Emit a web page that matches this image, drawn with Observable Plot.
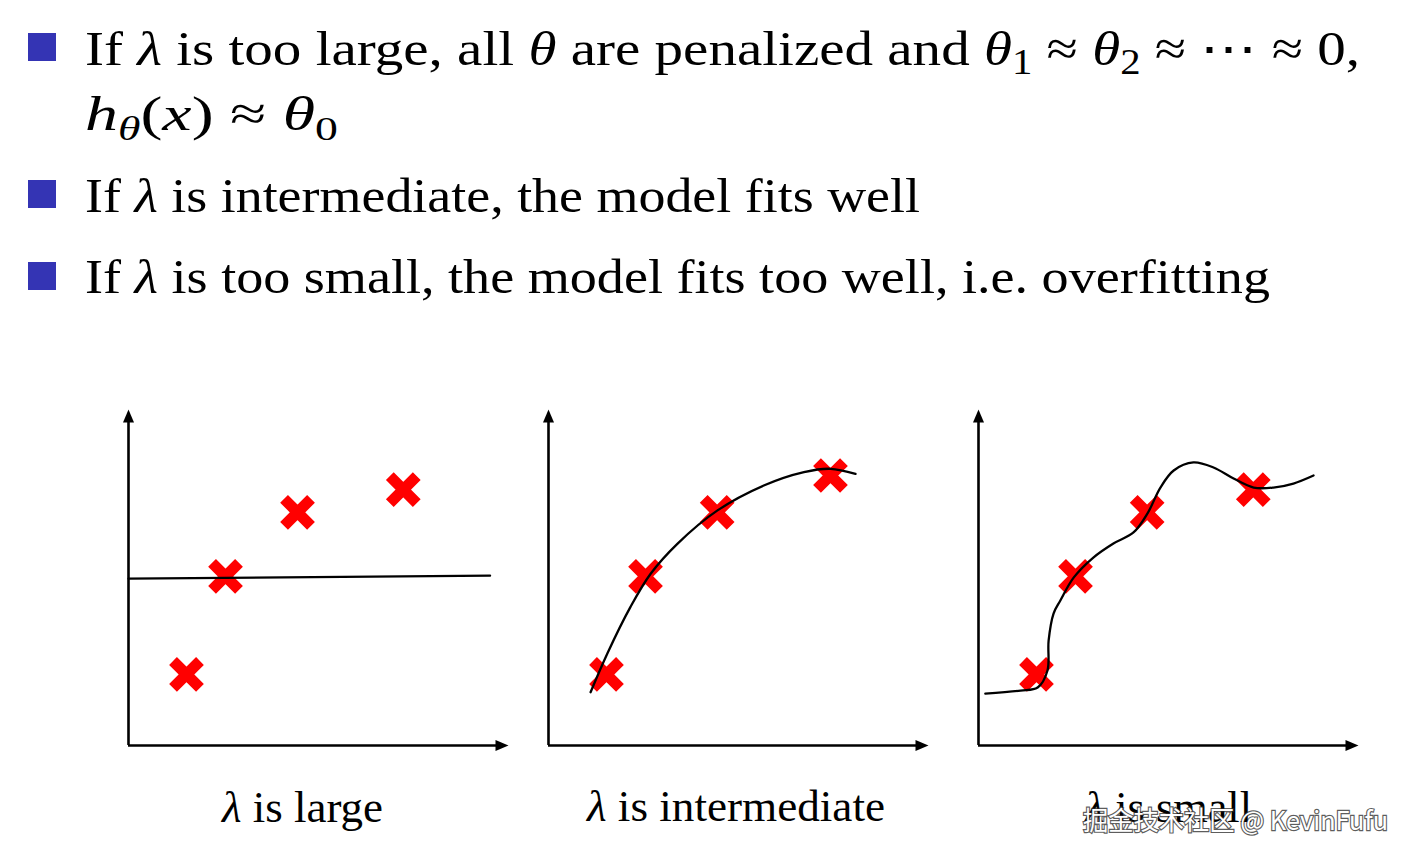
<!DOCTYPE html>
<html>
<head>
<meta charset="utf-8">
<script src="https://cdn.jsdelivr.net/npm/d3@7"></script>
<script src="https://cdn.jsdelivr.net/npm/@observablehq/plot@0.6"></script>
<style>
  html, body { margin: 0; padding: 0; background: #fff; }
  #page { position: relative; width: 1414px; height: 857px; overflow: hidden; background: #fff; }
  .panel { position: absolute; top: 390px; }
  #txt { position: absolute; left: 0; top: 0; z-index: 5; }
</style>
</head>
<body>
<div id="page">
  <div class="panel" id="p0" style="left:108px"></div>
  <div class="panel" id="p1" style="left:528px"></div>
  <div class="panel" id="p2" style="left:958px"></div>
  <svg id="txt" width="1414" height="857" font-family="'Liberation Serif', 'Times New Roman', serif" fill="#000">
    <rect x="28" y="33" width="28" height="28" fill="#3434b4"/>
    <rect x="28" y="180" width="28" height="28" fill="#3434b4"/>
    <rect x="28" y="262" width="28" height="28" fill="#3434b4"/>
    <text x="85" y="65" font-size="49" textLength="1275" lengthAdjust="spacingAndGlyphs">If <tspan font-style="italic">λ</tspan> is too large, all <tspan font-style="italic">θ</tspan> are penalized and <tspan font-style="italic">θ</tspan><tspan font-size="35" dy="9">1</tspan><tspan dy="-9"> ≈ </tspan><tspan font-style="italic">θ</tspan><tspan font-size="35" dy="9">2</tspan><tspan dy="-9"> ≈ ⋯ ≈ 0,</tspan></text>
    <text x="85" y="130" font-size="49" textLength="253" lengthAdjust="spacingAndGlyphs"><tspan font-style="italic">h</tspan><tspan font-style="italic" font-size="34" dy="10">θ</tspan><tspan dy="-10">(</tspan><tspan font-style="italic">x</tspan>) ≈ <tspan font-style="italic">θ</tspan><tspan font-size="34" dy="10">0</tspan></text>
    <text x="85" y="212" font-size="49" textLength="835" lengthAdjust="spacingAndGlyphs">If <tspan font-style="italic">λ</tspan> is intermediate, the model fits well</text>
    <text x="85" y="293" font-size="49" textLength="1185" lengthAdjust="spacingAndGlyphs">If <tspan font-style="italic">λ</tspan> is too small, the model fits too well, i.e. overfitting</text>
    <text id="lab0" x="222" y="822" font-size="45" textLength="161" lengthAdjust="spacingAndGlyphs"></text>
    <text id="lab1" x="587" y="821" font-size="45" textLength="298" lengthAdjust="spacingAndGlyphs"></text>
    <text id="lab2" x="1085" y="822" font-size="45" textLength="167" lengthAdjust="spacingAndGlyphs"></text>
    <text x="1083" y="830" font-family="'Noto Sans CJK SC', 'Noto Sans', sans-serif" font-size="26" fill="#fff" stroke="rgba(40,40,40,0.75)" stroke-width="2.4" paint-order="stroke" textLength="305" lengthAdjust="spacingAndGlyphs">掘金技术社区 @ KevinFufu</text>
  </svg>
</div>
<script>
// ---- data ----
const panelLabels = ["large", "intermediate", "small"];

// red X training points (x, y in axis units 0..10)
const pointsX = [
  [1.53, 2.56, 4.46, 7.25],
  [1.53, 2.56, 4.45, 7.44],
  [1.53, 2.56, 4.45, 7.25]
];
const pointsY = [
  [2.12, 5.05, 6.96, 7.64],
  [2.12, 5.05, 6.96, 8.06],
  [2.12, 5.05, 6.96, 7.64]
];

// fitted curves
const curveX = [
  [0.0, 9.54],
  [1.11, 1.55, 2.16, 2.69, 3.40, 4.45, 5.68, 6.74, 7.44, 8.10],
  [0.18, 1.11, 1.56, 1.82, 1.85, 1.98, 2.16, 2.51, 3.03, 3.56, 4.09, 4.46, 4.80, 5.15, 5.67, 6.20, 6.73, 7.26, 7.78, 8.31, 8.84]
];
const curveY = [
  [4.98, 5.07],
  [1.59, 2.74, 4.13, 5.12, 6.02, 7.01, 7.76, 8.16, 8.26, 8.11],
  [1.55, 1.64, 1.73, 2.24, 3.13, 3.94, 4.33, 5.01, 5.61, 6.03, 6.36, 6.93, 7.70, 8.21, 8.45, 8.30, 7.97, 7.70, 7.70, 7.82, 8.06]
];

const axisMax = 10;

// ---- arrowhead symbols (tip at the anchor point) ----
const arrowRight = { draw(ctx) { ctx.moveTo(1, 0); ctx.lineTo(-12, -5.5); ctx.lineTo(-12, 5.5); ctx.closePath(); } };
const arrowUp = { draw(ctx) { ctx.moveTo(0, -1); ctx.lineTo(-5.5, 12); ctx.lineTo(5.5, 12); ctx.closePath(); } };

function panel(i) {
  const pts = pointsX[i].map((x, j) => ({ x, y: pointsY[i][j] }));
  const curve = curveX[i].map((x, j) => ({ x, y: curveY[i][j] }));
  return Plot.plot({
    width: 419,
    height: 375,
    marginTop: 20, marginBottom: 20, marginLeft: 20, marginRight: 20,
    style: { background: "transparent", overflow: "visible" },
    x: { domain: [0, axisMax], axis: null },
    y: { domain: [0, axisMax], axis: null },
    marks: [
      Plot.ruleY([0], { x1: 0, x2: axisMax - 0.2, stroke: "#000", strokeWidth: 2.6 }),
      Plot.ruleX([0], { y1: 0, y2: axisMax - 0.2, stroke: "#000", strokeWidth: 2.6 }),
      Plot.dot([{ x: axisMax, y: 0 }], { x: "x", y: "y", symbol: arrowRight, fill: "#000", stroke: "none" }),
      Plot.dot([{ x: 0, y: axisMax }], { x: "x", y: "y", symbol: arrowUp, fill: "#000", stroke: "none" }),
      Plot.dot(pts, { x: "x", y: "y", symbol: "times", stroke: "#ff0000", strokeWidth: 11, r: 12.3 }),
      Plot.line(curve, { x: "x", y: "y", curve: i === 0 ? "linear" : "catmull-rom", stroke: "#000", strokeWidth: 2.3 })
    ]
  });
}

for (let i = 0; i < 3; i++) {
  document.getElementById("p" + i).appendChild(panel(i));
  const lab = document.getElementById("lab" + i);
  const t1 = document.createElementNS("http://www.w3.org/2000/svg", "tspan");
  t1.setAttribute("font-style", "italic");
  t1.textContent = "λ";
  lab.appendChild(t1);
  lab.appendChild(document.createTextNode(" is " + panelLabels[i]));
}
</script>
</body>
</html>
